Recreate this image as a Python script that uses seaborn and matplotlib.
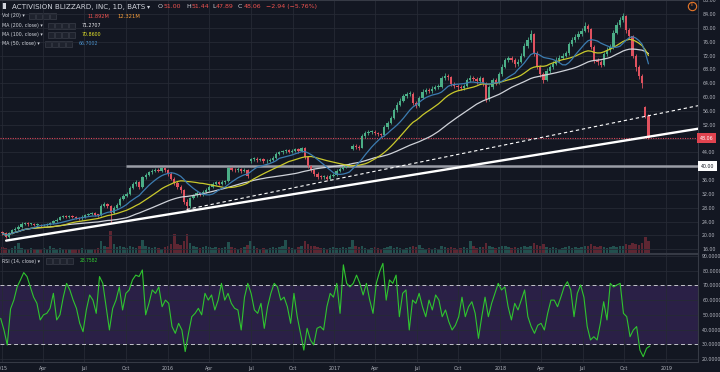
import numpy as np
import pandas as pd
import matplotlib
matplotlib.use("Agg")
import matplotlib.pyplot as plt
import matplotlib.transforms as mtransforms
from matplotlib.patches import Rectangle
import seaborn as sns

sns.set_theme(style="dark")
plt.rcParams['font.family'] = ['DejaVu Sans']

# ---------------- data (weekly) ----------------
first_week = '2015-01-02'
opens = [
    20.9, 20.6, 19.6, 20.8, 21.5, 22.0, 22.3, 23.4, 23.6, 23.2,
    23.3, 23.0, 23.1, 22.9, 23.0, 23.3, 23.6, 24.2, 24.6, 25.3,
    25.6, 25.4, 25.6, 25.3, 25.1, 24.9, 25.4, 25.9, 26.2, 26.4,
    26.0, 25.8, 28.6, 29.0, 28.4, 26.5, 28.0, 28.9, 30.6, 31.5,
    32.0, 33.8, 34.8, 35.4, 34.0, 36.8, 37.6, 38.2, 38.6, 39.0,
    38.7, 39.4, 38.8, 37.8, 36.4, 35.2, 34.0, 33.0, 29.8, 28.4,
    30.8, 31.6, 32.2, 31.8, 32.6, 33.2, 34.0, 34.9, 35.3, 35.0,
    35.4, 35.6, 39.4, 39.0, 38.8, 39.2, 38.6, 39.0, 41.4, 42.0,
    42.2, 41.8, 42.0, 41.4, 41.6, 41.9, 42.4, 43.6, 44.0, 44.3,
    44.6, 44.2, 44.5, 44.9, 44.4, 45.2, 42.6, 40.0, 38.8, 37.8,
    37.0, 36.8, 37.0, 36.4, 37.2, 37.5, 38.6, 39.2, 39.8, 40.2,
    45.0, 45.8, 45.6, 45.4, 48.6, 49.6, 49.8, 50.0, 49.5, 49.2,
    49.0, 51.2, 52.6, 54.0, 56.2, 57.8, 59.0, 60.4, 60.8, 61.0,
    58.4, 57.4, 59.8, 61.6, 62.0, 61.8, 62.4, 62.8, 63.0, 65.4,
    66.2, 65.8, 63.8, 63.2, 62.8, 62.6, 63.2, 64.8, 65.6, 65.2,
    64.6, 65.4, 64.0, 59.4, 62.8, 64.8, 64.2, 66.6, 68.8, 70.6,
    71.2, 70.8, 69.6, 70.2, 72.0, 74.8, 76.6, 78.2, 72.8, 68.8,
    66.6, 65.0, 67.6, 68.6, 69.6, 70.8, 71.4, 72.0, 72.6, 75.2,
    76.6, 77.4, 78.2, 79.2, 80.4, 79.6, 74.6, 70.6, 70.0, 69.4,
    72.4, 73.6, 74.4, 78.6, 80.8, 82.2, 83.4, 79.4, 77.6, 72.0,
    68.6, 66.2, 57.0, 54.6]
closes = [
    20.6, 19.6, 20.8, 21.5, 22.0, 22.3, 23.4, 23.6, 23.2, 23.3,
    23.0, 23.1, 22.9, 23.0, 23.3, 23.6, 24.2, 24.6, 25.3, 25.6,
    25.4, 25.6, 25.3, 25.1, 24.9, 25.4, 25.9, 26.2, 26.4, 26.0,
    25.8, 28.6, 29.0, 28.4, 26.5, 28.0, 28.9, 30.6, 31.5, 32.0,
    33.8, 34.8, 35.4, 34.0, 36.8, 37.6, 38.2, 38.6, 39.0, 38.7,
    39.4, 38.8, 37.8, 36.4, 35.2, 34.0, 33.0, 29.8, 28.4, 30.8,
    31.6, 32.2, 31.8, 32.6, 33.2, 34.0, 34.9, 35.3, 35.0, 35.4,
    35.6, 39.4, 39.0, 38.8, 39.2, 38.6, 39.0, 37.2, 42.0, 42.2,
    41.8, 42.0, 41.4, 41.6, 41.9, 42.4, 43.6, 44.0, 44.3, 44.6,
    44.2, 44.5, 44.9, 44.4, 45.2, 42.6, 40.0, 38.8, 37.8, 37.0,
    36.8, 37.0, 36.4, 37.2, 37.5, 38.6, 39.2, 39.8, 40.2, 40.4,
    45.8, 45.6, 45.4, 48.6, 49.6, 49.8, 50.0, 49.5, 49.2, 49.0,
    51.2, 52.6, 54.0, 56.2, 57.8, 59.0, 60.4, 60.8, 61.0, 58.4,
    57.4, 59.8, 61.6, 62.0, 61.8, 62.4, 62.8, 63.0, 65.4, 66.2,
    65.8, 63.8, 63.2, 62.8, 62.6, 63.2, 64.8, 65.6, 65.2, 64.6,
    65.4, 64.0, 59.4, 62.8, 64.8, 64.2, 66.6, 68.8, 70.6, 71.2,
    70.8, 69.6, 70.2, 72.0, 74.8, 76.6, 78.2, 72.8, 68.8, 66.6,
    65.0, 67.6, 68.6, 69.6, 70.8, 71.4, 72.0, 72.6, 75.2, 76.6,
    77.4, 78.2, 79.2, 80.4, 79.6, 74.6, 70.6, 70.0, 69.4, 72.4,
    73.6, 74.4, 78.6, 80.8, 82.2, 83.4, 79.4, 77.6, 72.0, 68.6,
    66.2, 64.0, 54.6, 48.06]
highs = [
    21.3, 20.9, 21.1, 21.9, 22.4, 22.9, 23.8, 24.0, 23.9, 23.7,
    23.6, 23.5, 23.4, 23.4, 23.7, 24.0, 24.6, 25.0, 25.7, 26.0,
    25.9, 26.0, 25.9, 25.6, 25.4, 25.8, 26.3, 26.6, 26.8, 26.7,
    26.3, 29.0, 29.6, 29.4, 28.8, 28.4, 29.3, 31.0, 32.0, 32.6,
    34.3, 35.3, 36.0, 35.8, 37.3, 38.1, 38.7, 39.1, 39.5, 39.5,
    39.9, 39.8, 39.2, 38.2, 36.8, 35.6, 34.5, 33.4, 30.4, 31.2,
    32.1, 32.7, 32.6, 33.1, 33.7, 34.5, 35.4, 35.8, 35.7, 35.9,
    36.1, 39.9, 39.9, 39.4, 39.7, 39.6, 39.5, 39.3, 42.5, 42.8,
    42.6, 42.5, 42.3, 42.1, 42.4, 42.9, 44.1, 44.5, 44.8, 45.1,
    45.0, 45.0, 45.4, 45.2, 45.7, 45.5, 43.0, 40.5, 39.2, 38.2,
    37.5, 37.5, 37.4, 37.7, 38.0, 39.1, 39.7, 40.3, 40.7, 40.9,
    46.4, 46.3, 46.1, 49.2, 50.2, 50.4, 50.6, 50.5, 49.9, 49.7,
    51.8, 53.2, 54.6, 56.8, 58.5, 59.7, 61.0, 61.6, 61.7, 61.4,
    58.9, 60.4, 62.2, 62.7, 62.6, 63.1, 63.5, 63.7, 66.1, 66.9,
    66.8, 66.2, 64.4, 63.8, 63.4, 63.9, 65.5, 66.3, 66.2, 65.8,
    66.1, 65.9, 64.4, 63.4, 65.4, 65.4, 67.3, 69.5, 71.3, 72.0,
    71.9, 71.3, 70.9, 72.7, 75.5, 77.4, 79.4, 78.6, 73.3, 69.4,
    67.2, 68.3, 69.3, 70.3, 71.5, 72.1, 72.8, 73.4, 75.9, 77.4,
    78.2, 79.0, 80.0, 81.6, 81.2, 80.0, 75.0, 71.2, 70.6, 73.1,
    74.4, 75.2, 79.4, 81.6, 83.0, 84.4, 83.8, 80.0, 78.0, 72.5,
    69.2, 66.8, 57.4, 55.2]
lows = [
    20.1, 19.2, 19.4, 20.5, 21.2, 21.7, 22.1, 23.0, 22.8, 22.9,
    22.6, 22.7, 22.5, 22.6, 22.8, 23.1, 23.4, 24.0, 24.4, 25.0,
    25.0, 25.1, 24.9, 24.7, 24.5, 24.6, 25.1, 25.6, 25.9, 25.6,
    25.3, 25.6, 28.2, 27.8, 23.6, 26.1, 27.6, 28.6, 30.2, 31.0,
    31.7, 33.4, 34.3, 33.4, 33.8, 36.4, 37.2, 37.8, 38.2, 38.2,
    38.3, 38.3, 37.2, 35.9, 34.6, 33.4, 32.4, 29.0, 27.4, 28.0,
    30.4, 31.2, 31.3, 31.4, 32.2, 32.9, 33.7, 34.5, 34.5, 34.6,
    35.0, 35.4, 38.5, 38.3, 38.4, 38.1, 38.2, 36.5, 41.0, 41.6,
    41.2, 41.4, 40.9, 41.0, 41.2, 41.6, 42.2, 43.2, 43.6, 43.9,
    43.7, 43.8, 44.1, 43.9, 44.1, 42.0, 39.4, 38.2, 37.2, 36.4,
    36.2, 36.3, 35.9, 36.1, 36.8, 37.2, 38.2, 38.8, 39.4, 39.8,
    44.6, 45.0, 44.8, 45.2, 48.2, 49.1, 49.3, 48.9, 48.6, 48.4,
    48.7, 50.8, 52.2, 53.7, 55.8, 57.3, 58.6, 59.8, 60.2, 57.7,
    56.8, 57.1, 59.4, 61.0, 61.1, 61.3, 62.0, 62.2, 62.7, 64.8,
    65.0, 63.1, 62.5, 62.0, 61.9, 62.1, 62.8, 64.3, 64.5, 63.9,
    64.1, 63.3, 58.6, 59.0, 62.4, 63.5, 63.9, 66.2, 68.4, 70.0,
    70.0, 68.8, 69.0, 69.8, 71.6, 74.3, 76.0, 72.0, 68.0, 65.8,
    64.0, 64.6, 67.0, 68.1, 69.2, 70.2, 70.9, 71.5, 72.2, 74.7,
    76.0, 76.8, 77.7, 78.7, 78.8, 73.8, 69.8, 69.2, 68.6, 69.0,
    71.9, 73.0, 74.0, 78.1, 80.2, 81.6, 78.6, 76.8, 71.2, 67.6,
    65.2, 62.6, 53.8, 47.89]
volumes = [
    8, 7, 6, 7, 9, 14, 7, 6, 6, 7,
    6, 5, 6, 7, 6, 9, 7, 6, 7, 6,
    6, 5, 6, 5, 6, 7, 6, 6, 5, 6,
    7, 16, 10, 8, 30, 12, 8, 9, 8, 7,
    9, 8, 7, 10, 18, 9, 8, 7, 8, 7,
    6, 8, 10, 12, 25, 12, 11, 16, 25, 14,
    10, 8, 7, 8, 9, 8, 7, 8, 7, 7,
    8, 15, 8, 7, 6, 7, 8, 11, 16, 9,
    7, 6, 7, 6, 7, 8, 7, 8, 9, 18,
    8, 7, 6, 8, 9, 16, 12, 10, 9, 8,
    7, 7, 6, 7, 8, 7, 7, 8, 7, 8,
    18, 10, 8, 9, 7, 6, 7, 8, 7, 6,
    7, 8, 9, 7, 8, 7, 6, 7, 8, 9,
    8, 11, 7, 6, 7, 6, 7, 6, 10, 8,
    7, 8, 7, 6, 7, 8, 7, 16, 9, 7,
    8, 8, 14, 10, 8, 7, 8, 9, 10, 8,
    7, 8, 7, 8, 9, 8, 10, 13, 11, 10,
    12, 8, 7, 8, 7, 6, 7, 8, 9, 7,
    8, 7, 8, 9, 10, 12, 10, 8, 9, 8,
    7, 8, 9, 8, 9, 10, 12, 11, 13, 12,
    11, 14, 22, 16]

rsi_start, rsi_end = '2014-12-29', '2018-11-26'
rsi_values = [
    47.6, 39.7, 29.5, 54, 60, 69, 73.7, 78.7, 76, 69,
    62, 57.8, 46.5, 50, 51, 54.4, 64.6, 46.5, 50, 62,
    71.4, 66.9, 60, 54.4, 44.2, 38.5, 53.3, 63.5, 60, 51,
    76, 71.4, 55.5, 39.7, 54.4, 60, 69, 53.3, 64.6, 66.9,
    73.7, 77, 76, 80.5, 50, 57.8, 66.9, 64.6, 69, 55.5,
    60, 57.8, 42, 37.4, 44.2, 39.7, 25, 37.4, 48.7, 51,
    54.4, 50, 64.6, 60, 63.5, 53.3, 60, 71.4, 60, 64.6,
    57.8, 54.4, 53.3, 39.7, 62, 71.4, 64.6, 53.3, 51, 57.8,
    40.8, 55.5, 64.6, 71.4, 69, 60, 62, 55.5, 44.2, 64.6,
    48.7, 37.4, 26, 40.8, 32.9, 29.5, 40.8, 42, 39.7, 55.5,
    64.6, 62, 71.4, 51, 84, 71.4,
    69, 71.4, 77, 71.4, 63.5, 71.4, 60, 51, 71.4, 79.3,
    85, 60, 73.7, 71.4, 77, 48.7, 64.6, 66.9, 39.7, 60,
    57.8, 64.6, 55.5, 48.7, 60, 53.3, 63.5, 60, 48.7, 53.3,
    45.3, 39.7, 42.9, 48.7, 62, 48.7, 55.5, 58.9, 51, 34,
    48.7, 62, 48.7, 57.8, 64.6, 71.4, 66.9, 69, 55.5, 46.5,
    57.8, 53.3, 60, 66.9, 48.7, 42, 37.4, 42.9, 44.2, 39.7,
    51, 60, 60, 55.5, 62, 69, 72.5, 66.9, 48.7, 64.6,
    70.3, 62, 42, 32.9, 35.1, 32.9, 44.2, 58.9, 46.5, 71.4,
    69, 70.3, 71.4, 51, 48.7, 35.1, 39.7, 42, 26, 21.5,
    27.2, 28.76]

ma_windows_weeks = {'MA200': 40, 'MA100': 20, 'MA50': 10}

support_dates = ['2015-01-10', '2019-03-12']
support_prices = [18.5, 50.84]
channel_dates = ['2016-02-11', '2019-03-12']
channel_prices = [27.5, 57.5]
level_start = '2015-10-01'
level_price = 40.0
last_price = 48.06

price_ticks = [16, 20, 24, 28, 32, 36, 40, 44, 48, 52, 56, 60, 64, 68, 72, 76, 80, 84, 88]
rsi_ticks = [20, 30, 40, 50, 60, 70, 80, 90]
quarter_ticks = ['2015-01-01', '2015-04-01', '2015-07-01', '2015-10-01',
                 '2016-01-01', '2016-04-01', '2016-07-01', '2016-10-01',
                 '2017-01-01', '2017-04-01', '2017-07-01', '2017-10-01',
                 '2018-01-01', '2018-04-01', '2018-07-01', '2018-10-01',
                 '2019-01-01']
quarter_labels = ['2015', 'Apr', 'Jul', 'Oct', '2016', 'Apr', 'Jul', 'Oct',
                  '2017', 'Apr', 'Jul', 'Oct', '2018', 'Apr', 'Jul', 'Oct', '2019']

# ---------------- frame ----------------
df = pd.DataFrame({'open': opens, 'high': highs, 'low': lows,
                   'close': closes, 'volume': volumes})
df['date'] = pd.date_range(first_week, periods=len(df), freq='7D')
for name, w in ma_windows_weeks.items():
    df[name] = df['close'].rolling(w, min_periods=1).mean()
rsi_df = pd.DataFrame({'rsi': rsi_values,
                       'date': pd.date_range(rsi_start, rsi_end, periods=len(rsi_values))})

BG = '#131722'
GRID = '#262a35'
AXC = '#b2b5be'
UP, DOWN = '#4bae87', '#e0525f'
VUP, VDOWN = '#22504e', '#5e2632'

W, H = 720, 372
fig = plt.figure(figsize=(7.2, 3.72), dpi=100, facecolor=BG)
ax = fig.add_axes([0, 1 - 253 / H, 698 / W, 253 / H])
axr = fig.add_axes([0, 1 - 362 / H, 698 / W, (362 - 254) / H])

xlim = (pd.Timestamp('2014-12-27 13:00'), pd.Timestamp('2019-03-12'))

# volume (behind)
axv = ax.twinx()
ax.set_zorder(axv.get_zorder() + 1)
ax.patch.set_visible(False)
axv.set_facecolor(BG)
up = df['close'] >= df['open']
axv.bar(df['date'], df['volume'], width=5.5, color=np.where(up, VUP, VDOWN), linewidth=0)
axv.set_ylim(0, 340)
axv.set_yticks([])
axv.grid(False)
for s in axv.spines.values():
    s.set_visible(False)

# grid
for a in (ax, axr):
    a.set_facecolor(BG)
    a.set_xlim(*xlim)
    a.set_xticks(pd.to_datetime(quarter_ticks))
    a.grid(True, color=GRID, linewidth=0.6)
    a.set_axisbelow(True)
    for sname, s in a.spines.items():
        s.set_color('#363a45')
        s.set_linewidth(0.8)
    a.spines['left'].set_visible(False)
    a.yaxis.tick_right()
    a.tick_params(axis='both', length=0, labelsize=3.4, labelcolor=AXC, pad=3)
    a.set_xlabel('')
    a.set_ylabel('')

ax.set_ylim(14.92, 88.05)
ax.set_yticks(price_ticks)
# the 40 and 48 labels sit under the boxed level labels
ax.set_yticklabels(['' if v in (40, 48) else f'{v:.2f}' for v in price_ticks])
ax.set_xticklabels([])

axr.set_ylim(17.9, 91.36)
axr.set_yticks(rsi_ticks)
axr.set_yticklabels([f'{v:.4f}' for v in rsi_ticks])
axr.set_xticklabels(quarter_labels)
axr.tick_params(axis='x', pad=3)

# horizontal references
ax.hlines(level_price, pd.Timestamp(level_start), xlim[1], color='#9a9da6', linewidth=1.8, zorder=2)
ax.axhline(last_price, color='#d9475a', linewidth=0.8, linestyle=(0, (1, 1.2)), zorder=2)

# candles
cols = np.where(up, UP, DOWN)
ax.vlines(df['date'], df['low'], df['high'], colors=cols, linewidth=0.6, zorder=3)
body_lo = df[['open', 'close']].min(axis=1)
body_h = (df['close'] - df['open']).abs().clip(lower=0.25)
ax.bar(df['date'], body_h, bottom=body_lo, width=5.0, color=cols, linewidth=0, zorder=3)

# moving averages
sns.lineplot(data=df, x='date', y='MA200', ax=ax, color='#cfd2d9', linewidth=0.9, zorder=4)
sns.lineplot(data=df, x='date', y='MA100', ax=ax, color='#c9c92c', linewidth=0.9, zorder=4)
sns.lineplot(data=df, x='date', y='MA50', ax=ax, color='#3c7cb0', linewidth=0.9, zorder=4)

# trend lines
sns.lineplot(x=pd.to_datetime(support_dates), y=support_prices, ax=ax, color='white', linewidth=1.7, zorder=5)
sns.lineplot(x=pd.to_datetime(channel_dates), y=channel_prices, ax=ax, color='white', linewidth=0.8,
             linestyle=(0, (3, 2.5)), zorder=5)
ax.set_xlim(*xlim)
ax.set_xlabel('')
ax.set_ylabel('')

# RSI
axr.axhspan(30, 70, color='#2a2046', zorder=0, linewidth=0)
for lv in (30, 70):
    axr.axhline(lv, color='#c4c4cc', linewidth=0.7, linestyle=(0, (4, 3)), zorder=1)
sns.lineplot(data=rsi_df, x='date', y='rsi', ax=axr, color='#2fc42f', linewidth=0.8, zorder=3)
axr.set_xlim(*xlim)
axr.set_xlabel('')
axr.set_ylabel('')

# price labels on the axis
bt = mtransforms.blended_transform_factory(ax.transAxes, ax.transData)
ax.text(1.002, last_price, f'{last_price:.2f}', transform=bt, ha='left', va='center', fontsize=3.4,
        color='white', bbox=dict(boxstyle='square,pad=0.55', fc='#e0434f', ec='none'), zorder=10, clip_on=False)
ax.text(1.004, level_price, f'{level_price:.2f}', transform=bt, ha='left', va='center', fontsize=3.4,
        color='#131722', bbox=dict(boxstyle='square,pad=0.5', fc='white', ec='none'), zorder=10, clip_on=False)

# ---------------- legend texts ----------------
renderer = fig.canvas.get_renderer()


def fit(x0, x1, y, s, color):
    t = fig.text(x0 / W, 1 - y / H, s, fontsize=5, color=color, va='center', ha='left')
    w = t.get_window_extent(renderer).width
    t.set_fontsize(5 * (x1 - x0) / w)
    return t


def put(x0, y, s, color, size):
    return fig.text(x0 / W, 1 - y / H, s, fontsize=size, color=color, va='center', ha='left')


def buttons(x0, y):
    for k in range(4):
        fig.add_artist(Rectangle(((x0 + 7 * k) / W, 1 - (y + 3) / H), 6 / W, 6 / H,
                                 transform=fig.transFigure, fc='#1e222d', ec='#434651', lw=0.4))


TXT = '#d1d4dc'
RED = '#ef5350'
fig.add_artist(Rectangle((2 / W, 1 - 9 / H), 4 / W, 6 / H, transform=fig.transFigure,
                         fc='#d1d4dc', ec='none'))
fit(12, 145, 6.5, 'ACTIVISION BLIZZARD, INC, 1D, BATS', TXT)
put(147, 6.5, '▾', TXT, 4.4)
OS = 4.5
for letter, value, xl, xv in [('O', '51.00', 158, 163.5), ('H', '51.44', 186, 191.5),
                              ('L', '47.89', 212, 216), ('C', '48.06', 238, 243.5)]:
    put(xl, 6.5, letter, TXT, OS)
    put(xv, 6.5, value, RED, OS)
put(266, 6.5, '−2.94 (−5.76%)', RED, OS)

fit(2, 25, 16, 'Vol (20) ▾', TXT)
buttons(29, 16)
fit(88, 110, 16, '11.892M', RED)
fit(117, 140, 16, '12.321M', '#f39c3a')

fit(2, 43, 25.7, 'MA (200, close) ▾', TXT)
buttons(48, 25.7)
fit(82, 102, 25.7, '71.2707', '#e8e8ec')

fit(2, 43, 34.7, 'MA (100, close) ▾', TXT)
buttons(48, 34.7)
fit(82, 102, 34.7, '70.8600', '#e6e62a')

fit(2, 40, 43.7, 'MA (50, close) ▾', TXT)
buttons(45, 43.7)
fit(79, 99, 43.7, '66.7002', '#4a8fc8')

fit(2, 40, 261, 'RSI (14, close) ▾', TXT)
buttons(46, 261)
fit(80, 99, 261, '28.7582', '#33cc33')

# small icon top right
fig.add_artist(plt.Line2D([692 / W], [1 - 5.5 / H], marker='o', markersize=6, markerfacecolor=BG,
                          markeredgecolor='#e8782a', markeredgewidth=0.8, transform=fig.transFigure))
fig.text(692 / W, 1 - 5.5 / H, 'E', fontsize=2.6, color='#e8782a', ha='center', va='center')

fig.savefig('out.png', dpi=100, facecolor=BG)
